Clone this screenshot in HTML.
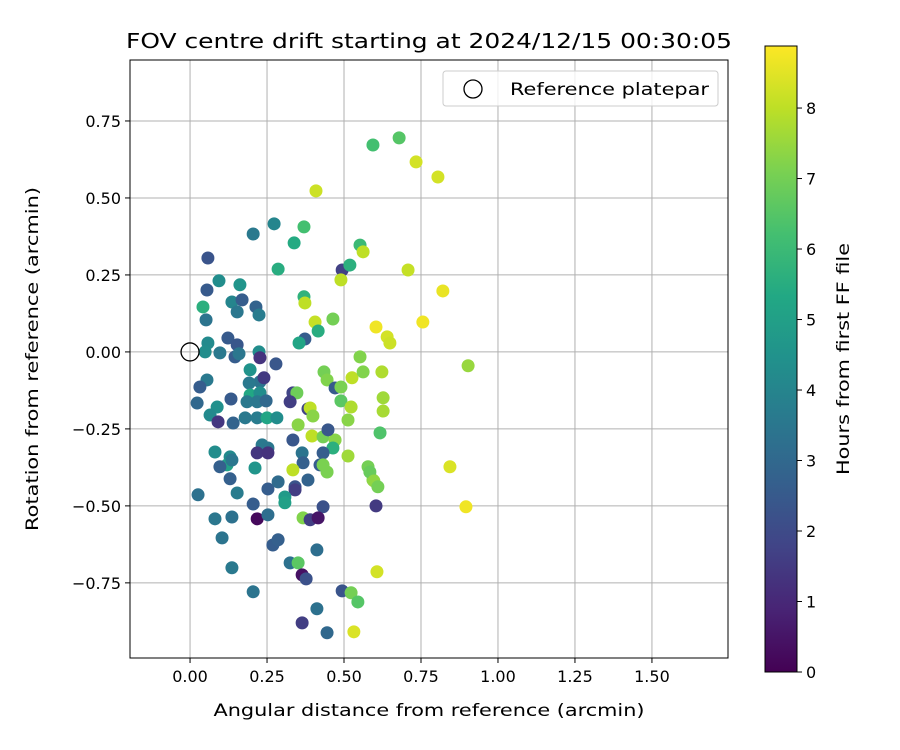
<!DOCTYPE html>
<html><head><meta charset="utf-8"><style>
html,body{margin:0;padding:0;background:#fff;}
svg{display:block;font-family:"DejaVu Sans","Liberation Sans",sans-serif;}
</style></head><body>
<svg id="chart" width="900" height="750" viewBox="0 0 900 750" xmlns="http://www.w3.org/2000/svg">
<defs><linearGradient id="vir" x1="0" y1="1" x2="0" y2="0">
<stop offset="0" stop-color="#440154"/><stop offset="0.1" stop-color="#482475"/><stop offset="0.2" stop-color="#414487"/><stop offset="0.3" stop-color="#355f8d"/><stop offset="0.4" stop-color="#2a788e"/><stop offset="0.5" stop-color="#21918c"/><stop offset="0.6" stop-color="#22a884"/><stop offset="0.7" stop-color="#44bf70"/><stop offset="0.8" stop-color="#7ad151"/><stop offset="0.9" stop-color="#bddf26"/><stop offset="1" stop-color="#fde725"/>
</linearGradient>
<clipPath id="clip"><rect x="130" y="60" width="598" height="598"/></clipPath></defs>
<text x="429" y="48" font-size="20" text-anchor="middle" textLength="606" lengthAdjust="spacingAndGlyphs">FOV centre drift starting at 2024/12/15 00:30:05</text>
<g id="grid"></g>
<g id="points" clip-path="url(#clip)"></g>
<rect x="130" y="60" width="598" height="598" fill="none" stroke="#000" stroke-width="1"/>
<g id="xticks"></g><g id="yticks"></g>
<text x="429" y="716" font-size="17" text-anchor="middle" textLength="431" lengthAdjust="spacingAndGlyphs">Angular distance from reference (arcmin)</text>
<text transform="translate(38,359) rotate(-90)" font-size="17" text-anchor="middle" textLength="344" lengthAdjust="spacingAndGlyphs">Rotation from reference (arcmin)</text>
<g>
<rect x="443" y="71" width="275" height="35" rx="3" fill="#fff" fill-opacity="0.8" stroke="#ccc"/>
<circle cx="473" cy="89" r="9" fill="none" stroke="#000" stroke-width="1.3"/>
<text x="510" y="95" font-size="17" textLength="199" lengthAdjust="spacingAndGlyphs">Reference platepar</text>
</g>
<rect x="765" y="46" width="32" height="626" fill="url(#vir)" stroke="#000" stroke-width="1"/>
<g id="cticks"></g>
<text transform="translate(849,359) rotate(-90)" font-size="17" text-anchor="middle" textLength="232" lengthAdjust="spacingAndGlyphs">Hours from first FF file</text>
</svg>
<script>
const xs=[0.058,0.205,0.273,0.370,0.338,0.286,0.094,0.162,0.055,0.042,0.136,0.169,0.153,0.214,0.224,0.052,0.370,0.373,0.406,0.464,0.416,0.373,0.354,0.494,0.519,0.490,0.058,0.049,0.123,0.153,0.097,0.146,0.159,0.224,0.227,0.279,0.195,0.055,0.032,0.227,0.240,0.192,0.133,0.195,0.227,0.185,0.218,0.247,0.023,0.088,0.065,0.091,0.140,0.179,0.218,0.250,0.282,0.334,0.347,0.325,0.383,0.390,0.399,0.435,0.445,0.471,0.490,0.526,0.490,0.523,0.513,0.351,0.396,0.432,0.471,0.448,0.334,0.513,0.464,0.432,0.364,0.234,0.253,0.218,0.253,0.081,0.130,0.120,0.097,0.136,0.211,0.367,0.422,0.334,0.445,0.432,0.578,0.594,0.130,0.153,0.026,0.253,0.286,0.341,0.341,0.383,0.308,0.308,0.205,0.432,0.604,0.081,0.136,0.218,0.253,0.367,0.390,0.416,0.104,0.269,0.286,0.412,0.136,0.325,0.351,0.364,0.377,0.607,0.205,0.494,0.523,0.545,0.412,0.364,0.445,0.532,0.594,0.679,0.734,0.805,0.409,0.552,0.562,0.708,0.821,0.604,0.756,0.640,0.649,0.552,0.903,0.623,0.562,0.627,0.627,0.617,0.844,0.896,0.584,0.597,0.610];
const ys=[0.305,0.383,0.416,0.406,0.354,0.269,0.231,0.218,0.201,0.146,0.162,0.169,0.130,0.146,0.120,0.104,0.179,0.159,0.097,0.107,0.068,0.042,0.029,0.266,0.282,0.234,0.029,0.000,0.045,0.023,-0.003,-0.016,-0.006,0.000,-0.019,-0.039,-0.058,-0.091,-0.114,-0.097,-0.084,-0.101,-0.153,-0.140,-0.133,-0.162,-0.162,-0.159,-0.166,-0.179,-0.205,-0.227,-0.231,-0.214,-0.214,-0.214,-0.214,-0.133,-0.133,-0.162,-0.185,-0.182,-0.208,-0.065,-0.091,-0.117,-0.114,-0.084,-0.159,-0.179,-0.221,-0.237,-0.273,-0.276,-0.286,-0.253,-0.286,-0.338,-0.312,-0.328,-0.328,-0.302,-0.312,-0.328,-0.328,-0.325,-0.341,-0.367,-0.373,-0.351,-0.377,-0.360,-0.367,-0.383,-0.390,-0.367,-0.373,-0.416,-0.412,-0.458,-0.464,-0.445,-0.422,-0.438,-0.448,-0.416,-0.471,-0.490,-0.494,-0.503,-0.500,-0.542,-0.536,-0.542,-0.529,-0.539,-0.545,-0.539,-0.604,-0.627,-0.610,-0.643,-0.701,-0.685,-0.685,-0.724,-0.737,-0.714,-0.779,-0.776,-0.782,-0.812,-0.834,-0.880,-0.912,-0.909,0.672,0.695,0.617,0.568,0.523,0.347,0.325,0.266,0.198,0.081,0.097,0.049,0.029,-0.016,-0.045,-0.065,-0.065,-0.149,-0.192,-0.263,-0.373,-0.503,-0.390,-0.419,-0.438];
const hours=[2.3,3.6,4.0,6.2,5.4,5.5,4.3,4.6,2.5,5.6,4.0,2.6,3.5,2.8,3.7,3.4,5.7,8.0,8.1,7.0,5.5,2.6,5.2,1.7,5.6,8.0,4.2,4.3,2.5,2.4,3.6,2.6,3.5,4.3,1.3,2.4,4.5,3.6,2.6,3.4,1.5,3.6,2.5,5.3,4.3,3.6,3.5,3.0,3.0,4.4,4.2,1.4,2.8,3.6,3.7,5.2,4.3,1.8,6.9,1.6,1.8,8.0,7.3,7.0,7.2,2.5,7.1,8.0,6.6,7.8,7.3,7.3,8.0,7.0,7.3,2.4,2.4,7.6,5.6,2.6,3.4,3.6,3.5,1.4,1.3,4.3,4.2,5.0,2.7,3.5,4.6,2.7,2.6,8.0,7.1,7.1,7.0,7.3,2.7,3.7,3.3,2.6,3.1,2.3,1.6,2.8,4.8,5.0,2.6,2.2,1.5,3.5,3.3,0.2,3.2,7.2,1.6,0.5,3.4,2.6,2.7,3.2,3.6,3.3,6.6,0.4,2.2,8.3,3.4,2.3,7.0,6.5,3.3,1.6,3.0,8.4,6.2,6.5,8.3,8.3,8.2,6.0,8.0,8.1,8.6,8.7,8.7,8.3,8.2,7.2,7.5,7.8,7.2,7.6,7.7,6.4,8.4,8.7,6.8,7.4,7.0];
const xTicks=[0,0.25,0.5,0.75,1.0,1.25,1.5];
const xTickLabels=["0.00","0.25","0.50","0.75","1.00","1.25","1.50"];
const yTicks=[-0.75,-0.5,-0.25,0,0.25,0.5,0.75];
const yTickLabels=["−0.75","−0.50","−0.25","0.00","0.25","0.50","0.75"];
const cTicks=[0,1,2,3,4,5,6,7,8];
const NS="http://www.w3.org/2000/svg";
const xMin=-0.195,xMax=1.747,yMin=-0.994,yMax=0.948,hMax=8.88;
function X(v){return 130+(v-xMin)/(xMax-xMin)*598;}
function Y(v){return 658-(v-yMin)/(yMax-yMin)*598;}
function C(h){return 672-h/hMax*626;}
const stops=["#440154","#482475","#414487","#355f8d","#2a788e","#21918c","#22a884","#44bf70","#7ad151","#bddf26","#fde725"];
function hex(c){return [1,3,5].map(i=>parseInt(c.substr(i,2),16));}
function viridis(t){t=Math.max(0,Math.min(1,t))*10;const i=Math.min(9,Math.floor(t)),f=t-i;const a=hex(stops[i]),b=hex(stops[i+1]);return "rgb("+a.map((v,k)=>Math.round(v+(b[k]-v)*f)).join(",")+")";}
function mk(tag,attrs,parent,txt){const e=document.createElementNS(NS,tag);for(const k in attrs)e.setAttribute(k,attrs[k]);if(txt!==undefined)e.textContent=txt;parent.appendChild(e);return e;}
const grid=document.getElementById("grid"),xt=document.getElementById("xticks"),yt=document.getElementById("yticks"),pts=document.getElementById("points"),ct=document.getElementById("cticks");
xTicks.forEach((v,i)=>{const x=X(v);
 const g=mk("line",{x1:x,x2:x,y1:60,y2:658,stroke:"#b0b0b0","stroke-width":1},grid);
 
 
 const t=mk("line",{x1:x,x2:x,y1:658,y2:663,stroke:"#000"},xt);
 
 
 const l=mk("text",{x:x,y:682,"font-size":16,"text-anchor":"middle"},xt,xTickLabels[i]);
 
 });
yTicks.forEach((v,i)=>{const y=Y(v);
 const g=mk("line",{x1:130,x2:728,y1:y,y2:y,stroke:"#b0b0b0","stroke-width":1},grid);
 
 
 const t=mk("line",{x1:125,x2:130,y1:y,y2:y,stroke:"#000"},yt);
 
 
 const l=mk("text",{x:121,y:y+6,"font-size":16,"text-anchor":"end"},yt,yTickLabels[i]);
 
 });
xs.forEach((v,i)=>{
 const c=mk("circle",{cx:X(v),cy:Y(ys[i]),r:6.5,fill:viridis(hours[i]/hMax)},pts);
 
 });
const ref=mk("circle",{cx:X(0),cy:Y(0),r:9,fill:"none",stroke:"#000","stroke-width":1.3},pts);


cTicks.forEach(v=>{const y=C(v);
 const t=mk("line",{x1:797,x2:802,y1:y,y2:y,stroke:"#000"},ct);
 
 
 const l=mk("text",{x:806,y:y+6,"font-size":16},ct,String(v));
 
 });
</script>
</body></html>
